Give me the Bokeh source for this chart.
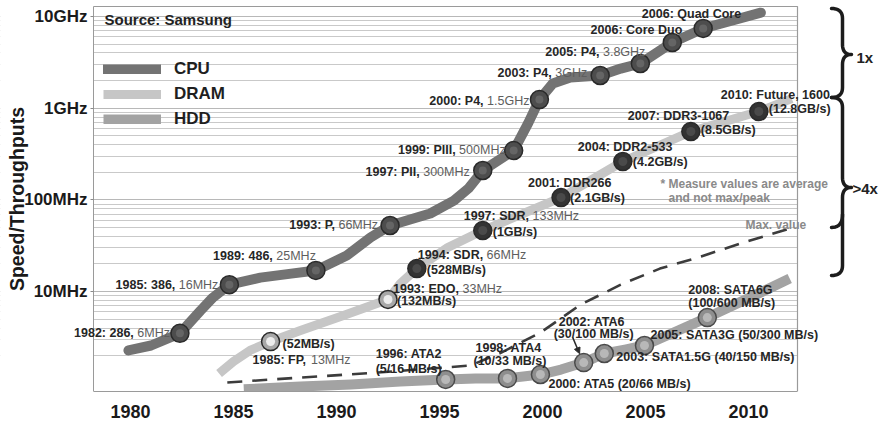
import math

from bokeh.embed import file_html
from bokeh.models import Arrow, FixedTicker, Label, Legend, LegendItem, NormalHead, Range1d
from bokeh.plotting import figure
from bokeh.resources import INLINE

FONT = "Liberation Sans"

# ---------------------------------------------------------------- axis ticks
year_ticks = [1980, 1985, 1990, 1995, 2000, 2005, 2010]
speed_ticks = [10, 100, 1000, 10000]
speed_tick_labels = ["10MHz", "100MHz", "1GHz", "10GHz"]

# ---------------------------------------------------------------- CPU
cpu_year = [1982.4, 1984.8, 1989.0, 1992.6, 1997.1, 1998.6, 1999.85, 2002.8, 2004.75, 2006.3, 2007.8]
cpu_level = [3.5, 11.9, 17.0, 52.5, 209, 345, 1240, 2270, 3070, 5200, 7400]
cpu_name = ["1982: 286,", "1985: 386,", "1989: 486,", "1993: P,", "1997: PII,", "1999: PIII,",
            "2000: P4,", "2003: P4,", "2005: P4,", "2006: Core Duo", "2006: Quad Core"]
cpu_clock = ["6MHz", "16MHz", "25MHz", "66MHz", "300MHz", "500MHz", "1.5GHz", "3GHz", "3.8GHz", "", ""]
cpu_curve_year = [1979.9, 1981.0, 1982.4, 1983.4, 1984.0, 1984.8, 1986.3, 1987.8, 1989.0, 1990.5,
                  1991.65, 1992.6, 1994.55, 1995.7, 1996.4, 1997.1, 1998.6, 1999.3, 1999.85, 2000.5,
                  2001.35, 2002.8, 2003.8, 2004.75, 2006.3, 2007.8, 2010.6]
cpu_curve_level = [2.28, 2.58, 3.5, 6.2, 8.6, 11.9, 14.2, 15.7, 17.0, 24.7,
                   38.8, 52.5, 71, 98, 133, 209, 345, 681, 1240, 1860,
                   2160, 2270, 2700, 3070, 5200, 7400, 11000]

# ---------------------------------------------------------------- DRAM
dram_year = [1986.8, 1992.5, 1993.9, 1997.1, 2000.9, 2003.9, 2007.2, 2010.5]
dram_level = [2.85, 8.2, 17.8, 46.3, 106, 262, 556, 919]
dram_name = ["1985: FP,", "1993: EDO,", "1994: SDR,", "1997: SDR,", "2001: DDR266",
             "2004: DDR2-533", "2007: DDR3-1067", "2010: Future, 1600"]
dram_clock = ["13MHz", "33MHz", "66MHz", "133MHz", "", "", "", ""]
dram_rate = ["(52MB/s)", "(132MB/s)", "(528MB/s)", "(1GB/s)", "(2.1GB/s)", "(4.2GB/s)",
             "(8.5GB/s)", "(12.8GB/s)"]
dram_kind = ["light", "light", "dark", "dark", "dark", "dark", "dark", "dark"]
dram_curve_year = [1984.3, 1985.0, 1985.8, 1986.8, 1988.25, 1990.2, 1992.5, 1993.1, 1993.9,
                   1995.4, 1997.1, 2000.9, 2003.9, 2007.2, 2010.5, 2012.1]
dram_curve_level = [1.28, 1.73, 2.28, 2.85, 3.76, 5.35, 8.2, 12.2, 17.8,
                    30.2, 46.3, 106, 262, 556, 919, 1270]

# ---------------------------------------------------------------- HDD
hdd_year = [1995.3, 1998.3, 1999.9, 2002.0, 2003.0, 2004.95, 2008.0]
hdd_level = [1.10, 1.13, 1.245, 1.68, 2.11, 2.58, 5.2]
hdd_name = ["1996: ATA2", "1998: ATA4", "2000: ATA5 (20/66 MB/s)", "2002: ATA6",
            "2003: SATA1.5G (40/150 MB/s)", "2005: SATA3G (50/300 MB/s)", "2008: SATA6G"]
hdd_rate = ["(5/16 MB/s)", "(10/33 MB/s)", "", "(30/100 MB/s)", "", "", "(100/600 MB/s)"]
hdd_curve_year = [1985.5, 1988.25, 1990.7, 1993.1, 1995.3, 1996.75, 1998.3, 1999.9, 2000.9,
                  2002.0, 2003.0, 2004.0, 2004.95, 2008.0, 2010.6, 2012.0]
hdd_curve_level = [0.86, 0.92, 0.97, 1.045, 1.10, 1.13, 1.13, 1.245, 1.41,
                   1.68, 2.11, 2.33, 2.58, 5.2, 9.8, 13.9]

# HDD interface maximum (dashed)
hdd_max_year = [1984.7, 1992.0, 1996.5, 1998.0, 1999.9, 2001.85, 2003.8, 2005.7, 2007.7, 2009.6, 2012.0]
hdd_max_level = [1.02, 1.31, 1.56, 2.16, 3.57, 7.2, 11.9, 17.8, 24.1, 33.4, 48.7]

# ---------------------------------------------------------------- label layout (px offsets from marker)
cpu_label_pos = [(-10, 0), (-11, 0), (0, -14), (-12, -1), (-13, 1), (-8, -1), (-10, 1),
                 (-13, -3), (5, -11), (10, -13), (38, -14)]
dram_name_pos = [(-18, 18), (5, -10), (1, -14), (-19, -15), (-33, -15), (-45, -15), (-63, -16), (-38, -17)]
dram_rate_pos = [(12, 2), (9, 2), (10, 1), (10, 1), (9, 0), (10, 0), (10, -2), (10, -3)]
hdd_name_pos = [(-70, -25), (-32, -30), (8, 9), (-25, -41), (12, 3), (6, -11), (-19, -28)]
hdd_rate_pos = [(-70, -10), (-34, -17), None, (-30, -29), None, None, (-19, -15)]

# ---------------------------------------------------------------- canvas geometry
# The drawing frame covers the full canvas width; the framed box of the chart sits inside it
# (left edge 93 px, right edge 797 px, top 6 px) so captions and braces can reach past it.
W, H = 885, 421
BOTTOM = 30
FRAME_W, FRAME_H = W, H - BOTTOM
X_LO, X_HI = 1973.69, 2016.65
Y_LO, Y_HI = 0.813, 14930
BOX_LEFT_PX, BOX_RIGHT_PX, BOX_TOP_PX = 93, 797, 6

LABEL_PX = 12.5
DARK = "#262626"
SOFT = "#5e5e5e"
NOTE = "#8a8a8a"

# Arial / Liberation Sans advance widths (1/1000 em) for splitting two-weight labels
_W_REG = {"M": 833, "H": 722, "z": 500, "G": 778, ".": 278, " ": 278}
_W_BOLD = {":": 333, " ": 278, ",": 278, ".": 278, "-": 333, "F": 611, "P": 667, "E": 667,
           "D": 722, "O": 778, "S": 667, "R": 722, "I": 278}


def text_width(s, bold):
    table = _W_BOLD if bold else _W_REG
    return sum(table.get(ch, 556) for ch in s) * LABEL_PX / 1000.0


def px_to_data(sx, sy):
    yr = X_LO + sx / FRAME_W * (X_HI - X_LO)
    lo, hi = math.log10(Y_LO), math.log10(Y_HI)
    return yr, 10 ** (hi - sy / FRAME_H * (hi - lo))


box_left = px_to_data(BOX_LEFT_PX, 0)[0]
box_right, box_top = px_to_data(BOX_RIGHT_PX, BOX_TOP_PX)

p = figure(width=W, height=H, x_range=Range1d(X_LO, X_HI), y_range=Range1d(Y_LO, Y_HI),
           y_axis_type="log", output_backend="svg", toolbar_location=None,
           min_border_left=0, min_border_right=0, min_border_top=0, min_border_bottom=BOTTOM)
p.title.visible = False
p.outline_line_color = None
p.background_fill_color = "white"
p.border_fill_color = "white"

# axes
p.xaxis.ticker = FixedTicker(ticks=year_ticks)
p.xaxis.bounds = (box_left, box_right)
p.xaxis.axis_line_color = "#9a9a9a"
p.xaxis.major_tick_line_color = None
p.xaxis.minor_tick_line_color = None
p.xaxis.major_label_standoff = 7
p.xaxis.major_label_text_font = FONT
p.xaxis.major_label_text_font_style = "bold"
p.xaxis.major_label_text_font_size = "18px"
p.xaxis.major_label_text_color = "#1a1a1a"

minor = [m * 10 ** k for k in range(0, 4) for m in range(2, 10)]
p.yaxis.fixed_location = box_left
p.yaxis.ticker = FixedTicker(ticks=speed_ticks, minor_ticks=minor)
p.yaxis.major_label_overrides = dict(zip(speed_ticks, speed_tick_labels))
p.yaxis.bounds = (Y_LO, box_top)
p.yaxis.axis_line_color = "#9a9a9a"
p.yaxis.major_tick_line_color = "#8a8a8a"
p.yaxis.major_tick_out = 3
p.yaxis.major_tick_in = 0
p.yaxis.minor_tick_line_color = None
p.yaxis.major_label_standoff = 2
p.yaxis.major_label_text_font = FONT
p.yaxis.major_label_text_font_style = "bold"
p.yaxis.major_label_text_font_size = "17px"
p.yaxis.major_label_text_color = "#1a1a1a"
p.yaxis.axis_label = "Speed/Throughputs"
p.yaxis.axis_label_text_font = FONT
p.yaxis.axis_label_text_font_style = "bold"
p.yaxis.axis_label_text_font_size = "19.5px"
p.yaxis.axis_label_text_color = "#1a1a1a"
p.yaxis.axis_label_standoff = -7

p.xgrid.grid_line_color = None
p.ygrid.grid_line_color = "#b8b8b8"
p.ygrid.minor_grid_line_color = "#c9c9c9"

# keep the grid inside the box: blank out the strips left and right of it
p.quad(left=[X_LO, px_to_data(BOX_RIGHT_PX + 0.5, 0)[0]],
       right=[px_to_data(BOX_LEFT_PX - 0.5, 0)[0], X_HI],
       bottom=[Y_LO, Y_LO], top=[Y_HI, Y_HI], fill_color="white", line_color=None)
p.line([box_left, box_right, box_right], [box_top, box_top, Y_LO], line_color="#9a9a9a", line_width=1.2)

# curves
cpu_line = p.line(cpu_curve_year, cpu_curve_level, line_color="#737373", line_width=10,
                  line_join="round", line_cap="round")
dram_line = p.line(dram_curve_year, dram_curve_level, line_color="#c6c6c6", line_width=9,
                   line_join="round", line_cap="butt")
hdd_line = p.line(hdd_curve_year, hdd_curve_level, line_color="#a3a3a3", line_width=10,
                  line_join="round", line_cap="butt")
p.line(hdd_max_year, hdd_max_level, line_color="#3c3c3c", line_width=2.6, line_dash="15 10")

# markers: outer ball plus a soft centre highlight
p.scatter(cpu_year, cpu_level, size=18, fill_color="#4d4d4d", line_color="#2a2a2a", line_width=1.5)
p.scatter(cpu_year, cpu_level, size=8, fill_color="#6c6c6c", line_color=None, fill_alpha=0.8)

dram_fill = ["#a8a8a8" if k == "light" else "#333333" for k in dram_kind]
dram_glow = ["#f4f4f4" if k == "light" else "#4c4c4c" for k in dram_kind]
p.scatter(dram_year, dram_level, size=18, fill_color=dram_fill, line_color="#2a2a2a", line_width=1.5)
p.scatter(dram_year, dram_level, size=9, fill_color=dram_glow, line_color=None, fill_alpha=0.9)

p.scatter(hdd_year, hdd_level, size=18, fill_color="#8e8e8e", line_color="#4a4a4a", line_width=1.5)
p.scatter(hdd_year, hdd_level, size=9, fill_color="#bdbdbd", line_color=None, fill_alpha=0.9)

# legend
legend = Legend(items=[LegendItem(label="CPU", renderers=[cpu_line]),
                       LegendItem(label="DRAM", renderers=[dram_line]),
                       LegendItem(label="HDD", renderers=[hdd_line])],
                location=(103, 262), orientation="vertical", padding=0, margin=0, spacing=5,
                glyph_width=58, glyph_height=10, label_height=20, label_standoff=13,
                label_text_font=FONT, label_text_font_style="bold", label_text_font_size="17px",
                label_text_color="#1f1f1f", background_fill_alpha=0, border_line_color=None)
p.add_layout(legend)


def add_text(x, y, text, dx, dy, align="left", bold=True, color=DARK, size=LABEL_PX, units="data"):
    p.add_layout(Label(x=x, y=y, x_units=units, y_units=units, x_offset=dx, y_offset=-dy,
                       text=text, text_align=align, text_baseline="middle", text_font=FONT,
                       text_font_style="bold" if bold else "normal",
                       text_font_size=f"{size}px", text_color=color))


def add_note(sx, sy, text, color, size, bold=True):
    # sx, sy: canvas pixels measured from the top-left corner
    add_text(sx, FRAME_H - sy, text, 0, 0, bold=bold, color=color, size=size, units="screen")


# CPU labels: bold model name, lighter clock speed, right-aligned left of the ball
for x, y, name, clock, (dx, dy) in zip(cpu_year, cpu_level, cpu_name, cpu_clock, cpu_label_pos):
    if clock:
        shift = text_width(clock, False) + text_width(" ", True)
        add_text(x, y, clock, dx, dy, align="right", bold=False, color=SOFT)
        add_text(x, y, name, dx - shift, dy, align="right")
    else:
        add_text(x, y, name, dx, dy, align="right")

# DRAM labels
for x, y, name, clock, rate, (dx, dy), (rx, ry) in zip(dram_year, dram_level, dram_name, dram_clock,
                                                       dram_rate, dram_name_pos, dram_rate_pos):
    add_text(x, y, name, dx, dy)
    if clock:
        add_text(x, y, clock, dx + text_width(name + " ", True), dy, bold=False, color=SOFT)
    add_text(x, y, rate, rx, ry)

# HDD labels
for x, y, name, rate, (dx, dy), rpos in zip(hdd_year, hdd_level, hdd_name, hdd_rate,
                                            hdd_name_pos, hdd_rate_pos):
    add_text(x, y, name, dx, dy)
    if rate:
        add_text(x, y, rate, rpos[0], rpos[1])

# pointer from the ATA6 caption to its ball
ata6_x, ata6_y = hdd_year[3], hdd_level[3]
p.add_layout(Arrow(x_start=ata6_x - 0.53, y_start=ata6_y * 1.87, x_end=ata6_x - 0.2, y_end=ata6_y * 1.25,
                   line_color="#2a2a2a", line_width=1.5,
                   end=NormalHead(size=6, fill_color="#2a2a2a", line_color="#2a2a2a")))

# source line, notes and brace captions
add_note(104, 19, "Source: Samsung", "#222222", 15)
add_note(745, 224, "Max. value", NOTE, 12)
add_note(660, 183, "* Measure values are average", NOTE, 12)
add_note(668, 197, "and not max/peak", NOTE, 12)
add_note(856, 57, "1x", "#222222", 15)
add_note(852, 188, ">4x", "#222222", 15)


# curly braces in the right-hand strip
def brace_path(x0, top, tip, bot, depth=9, hook=11, r=10, n=10):
    pts = []

    def quad(a, c, b):
        for i in range(n + 1):
            t = i / n
            pts.append(((1 - t) ** 2 * a[0] + 2 * (1 - t) * t * c[0] + t * t * b[0],
                        (1 - t) ** 2 * a[1] + 2 * (1 - t) * t * c[1] + t * t * b[1]))

    quad((x0 - hook, top), (x0, top), (x0, top + r))
    quad((x0, tip - r), (x0, tip), (x0 + depth, tip))
    quad((x0 + depth, tip), (x0, tip), (x0, tip + r))
    quad((x0, bot - r), (x0, bot), (x0 - hook, bot))
    return pts


def hook_path(x0, y_join, y_end, hook=11, n=10):
    pts = []
    for i in range(n + 1):
        t = i / n
        a, c, b = (x0 - hook, y_end), (x0, y_end), (x0, y_join)
        pts.append(((1 - t) ** 2 * a[0] + 2 * (1 - t) * t * c[0] + t * t * b[0],
                    (1 - t) ** 2 * a[1] + 2 * (1 - t) * t * c[1] + t * t * b[1]))
    return pts


brace_xs, brace_ys = [], []
for path in (brace_path(842, 8, 54, 97), brace_path(842, 97, 187, 275), hook_path(842, 214, 227)):
    conv = [px_to_data(sx, sy) for sx, sy in path]
    brace_xs.append([c[0] for c in conv])
    brace_ys.append([c[1] for c in conv])
p.multi_line(brace_xs, brace_ys, line_color="#1c1c1c", line_width=3.5, line_cap="round", line_join="round")

open("out.html", "w").write(file_html(p, INLINE))
